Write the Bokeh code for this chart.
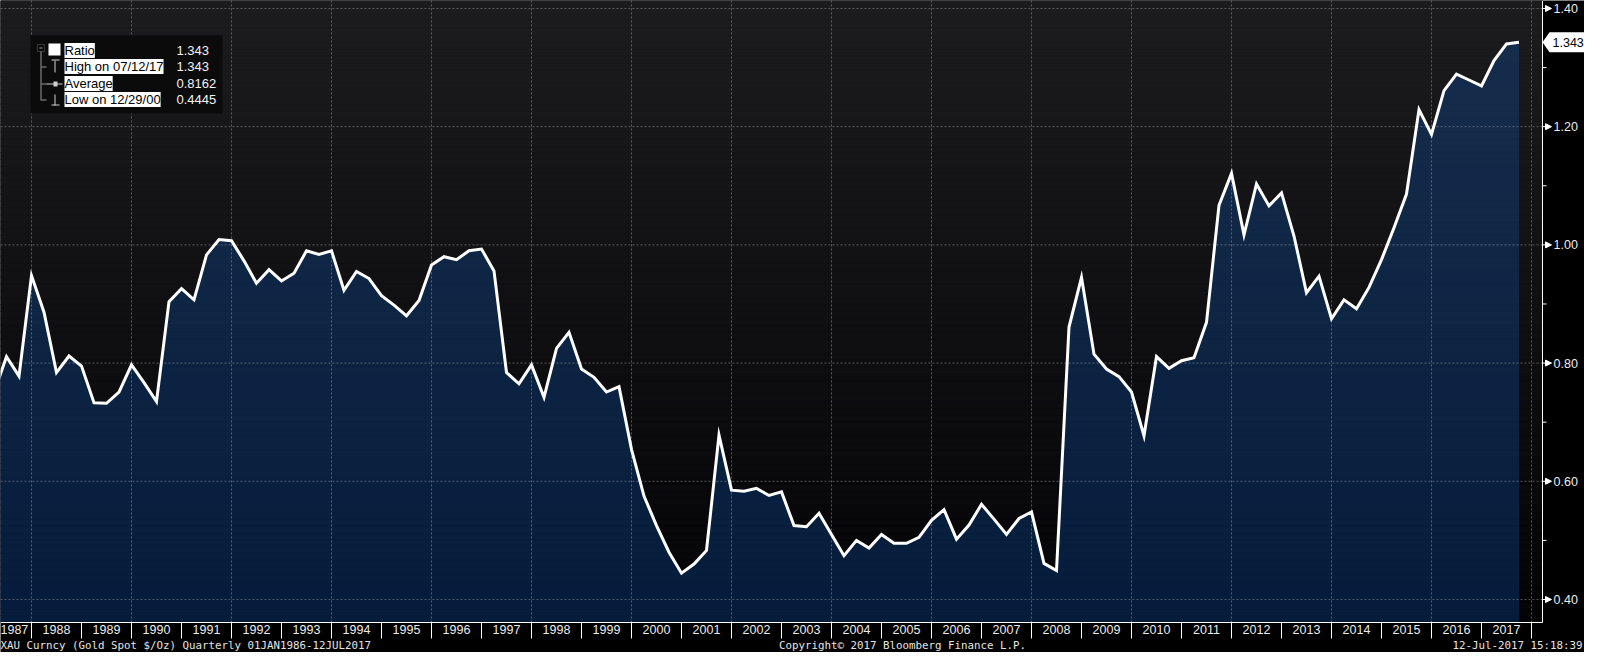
import numpy as np
from bokeh.plotting import figure
from bokeh.models import (ColumnDataSource, FixedTicker, CustomJSTickFormatter, Label, LinearAxis,
                          BoxAnnotation, PolyAnnotation, Arrow, NormalHead, Range1d)
from bokeh.embed import file_html
from bokeh.resources import INLINE

# ---------------- data ----------------
years = list(range(1987, 2018))          # year labels on the time axis
first_year = 1987                        # first quarter shown is Q1 1987
ratio = [
    0.750, 0.811, 0.778, 0.948,   # 1987
    0.886, 0.784, 0.812, 0.795,   # 1988
    0.733, 0.732, 0.751, 0.797,   # 1989
    0.767, 0.735, 0.904, 0.926,   # 1990
    0.907, 0.983, 1.009, 1.007,   # 1991
    0.973, 0.935, 0.958, 0.939,   # 1992
    0.952, 0.990, 0.984, 0.990,   # 1993
    0.923, 0.955, 0.943, 0.914,   # 1994
    0.898, 0.880, 0.906, 0.966,   # 1995
    0.980, 0.975, 0.990, 0.993,   # 1996
    0.956, 0.784, 0.765, 0.797,   # 1997
    0.742, 0.825, 0.852, 0.790,   # 1998
    0.776, 0.751, 0.760, 0.654,   # 1999
    0.575, 0.525, 0.480, 0.4445,  # 2000
    0.460, 0.483, 0.678, 0.585,   # 2001
    0.583, 0.588, 0.576, 0.582,   # 2002
    0.525, 0.523, 0.546, 0.510,   # 2003
    0.474, 0.500, 0.487, 0.510,   # 2004
    0.495, 0.495, 0.505, 0.534,   # 2005
    0.552, 0.502, 0.526, 0.561,   # 2006
    0.536, 0.510, 0.537, 0.548,   # 2007
    0.461, 0.449, 0.861, 0.945,   # 2008
    0.815, 0.790, 0.777, 0.751,   # 2009
    0.677, 0.811, 0.791, 0.804,   # 2010
    0.809, 0.869, 1.067, 1.121,   # 2011
    1.017, 1.103, 1.066, 1.088,   # 2012
    1.015, 0.919, 0.947, 0.875,   # 2013
    0.907, 0.892, 0.928, 0.975,   # 2014
    1.029, 1.086, 1.229, 1.187,   # 2015
    1.261, 1.289, 1.279, 1.269,   # 2016
    1.312, 1.340, 1.343,          # 2017
]
# quarter-end positions in decimal years
quarter_x = [first_year + (i + 1) / 4.0 for i in range(len(ratio))]

y_ticks = [0.40, 0.60, 0.80, 1.00, 1.20, 1.40]
y_minor = [0.50, 0.70, 0.90, 1.10, 1.30]
year_bounds = list(range(1988, 2019))
grid_years = list(range(1988, 2019, 2))
last_value = 1.343
last_text = "1.343"
legend_names = ["Ratio", "High on 07/12/17", "Average", "Low on 12/29/00"]
legend_values = ["1.343", "1.343", "0.8162", "0.4445"]
footer_left = "XAU Curncy (Gold Spot  $/Oz)  Quarterly 01JAN1986-12JUL2017"
footer_mid = "Copyright\u00a9 2017 Bloomberg Finance L.P."
footer_right = "12-Jul-2017 15:18:39"

# ---------------- layout ----------------
W, H = 1584, 652            # whole canvas is the frame
PXW = 50.0                  # pixels per year
PYW = 591.0                 # pixels per ratio unit
X0 = 1987.38                # left edge of canvas
XA = 2018.22                # right edge of the plot area (value axis)
Y1 = 1.4135                 # top edge of canvas
YA = 0.3611                 # bottom edge of the plot area (time axis)
XR = X0 + W / PXW
Y0 = Y1 - H / PYW
PX = 1.0 / PXW
PY = 1.0 / PYW


def cx(px):
    return X0 + px * PX


def cy(py):
    return Y1 - py * PY


SANS = "Liberation Sans"
MONO = "DejaVu Sans Mono"

p = figure(width=W, height=H, x_range=Range1d(X0, XR), y_range=Range1d(Y0, Y1),
           output_backend="svg", toolbar_location=None,
           x_axis_location=None, y_axis_location=None,
           min_border=0, min_border_left=0, min_border_right=0, min_border_top=0, min_border_bottom=0,
           background_fill_color="black", border_fill_color="black", outline_line_color=None)
p.grid.visible = False

# plot-area background gradient (decorative)
nb = 90
edges = np.linspace(YA, Y1, nb + 1)
top_c = np.array([28.0, 28.0, 31.0])
bot_c = np.array([4.0, 4.0, 7.0])
mid = (edges[:-1] + edges[1:]) / 2
frac = (mid - YA) / (Y1 - YA)
band_colors = ["#%02x%02x%02x" % tuple(int(round(v)) for v in (bot_c + f * (top_c - bot_c))) for f in frac]
p.quad(left=X0, right=XA, bottom=edges[:-1], top=edges[1:], fill_color=band_colors,
       line_color=band_colors, line_width=1)

# area under the ratio line
p.varea(x=quarter_x, y1=YA, y2=ratio, fill_color=(9, 101, 216), fill_alpha=0.25)

# dotted grid lines
p.segment(x0=X0, x1=XA, y0=y_ticks, y1=y_ticks, line_color="#b4b4b4", line_alpha=0.45,
          line_dash="2 2", line_width=1)
p.segment(x0=grid_years, x1=grid_years, y0=YA, y1=Y1, line_color="#b4b4b4", line_alpha=0.45,
          line_dash="2 2", line_width=1)

# ratio line
p.line(quarter_x, ratio, line_color="white", line_width=3, line_join="miter")

# year separators in the time strip
p.segment(x0=year_bounds, x1=year_bounds, y0=YA, y1=YA - 16 * PY, line_color="white", line_width=1)

# time axis (drawn at the bottom of the plot area)
xa = LinearAxis(fixed_location=YA, bounds=(X0, XA))
xa.ticker = FixedTicker(ticks=[y + 0.5 for y in years])
xa.formatter = CustomJSTickFormatter(code="return Math.floor(tick).toString()")
xa.major_tick_line_color = None
xa.major_tick_out = 0
xa.major_tick_in = 0
xa.minor_tick_line_color = None
xa.minor_tick_out = 0
xa.minor_tick_in = 0
xa.axis_line_color = "white"
xa.major_label_text_color = "#ececec"
xa.major_label_text_font = SANS
xa.major_label_text_font_size = "12.5px"
xa.major_label_standoff = 3
p.add_layout(xa, "below")

# value axis (drawn at the right edge of the plot area)
ya = LinearAxis(fixed_location=XA, bounds=(YA, Y1))
ya.ticker = FixedTicker(ticks=y_ticks, minor_ticks=y_minor)
ya.formatter = CustomJSTickFormatter(code="return tick.toFixed(2)")
ya.major_tick_line_color = None
ya.major_tick_out = 0
ya.major_tick_in = 0
ya.minor_tick_line_color = None
ya.minor_tick_out = 0
ya.minor_tick_in = 0
ya.axis_line_color = "white"
ya.major_label_standoff = 11
ya.major_label_text_color = "#ececec"
ya.major_label_text_font = SANS
ya.major_label_text_font_size = "12.5px"
p.add_layout(ya, "right")

# minor ticks on the value axis
p.segment(x0=XA, x1=XA + 4 * PX, y0=y_minor, y1=y_minor, line_color="white", line_width=1)

# tick pointers on the value axis
arrow_src = ColumnDataSource(dict(xs=[XA] * len(y_ticks), xe=[XA + 9 * PX] * len(y_ticks), y=y_ticks))
p.add_layout(Arrow(end=NormalHead(size=6, fill_color="white", line_color="white", line_width=1),
                   x_start="xs", y_start="y", x_end="xe", y_end="y", source=arrow_src,
                   line_color="white", line_width=1))

# last value callout
p.add_layout(PolyAnnotation(xs=[XA, XA + 7 * PX, XA + 60 * PX, XA + 60 * PX, XA + 7 * PX],
                            ys=[last_value, last_value + 10 * PY, last_value + 10 * PY,
                                last_value - 10 * PY, last_value - 10 * PY],
                            fill_color="white", fill_alpha=1.0, line_color=None))
p.add_layout(Label(x=XA, y=last_value, x_offset=10, text=last_text, text_baseline="middle",
                   text_align="left", text_color="black", text_font=SANS, text_font_size="12.5px"))

# legend panel
p.add_layout(BoxAnnotation(left=cx(30), right=cx(222), top=cy(35), bottom=cy(113),
                           fill_color="#0b0b0c", fill_alpha=1.0, line_color=None))


def deco(l, t, r, b, color="#9a9a9a", outline=False):
    if outline:
        p.add_layout(BoxAnnotation(left=cx(l), right=cx(r), top=cy(t), bottom=cy(b),
                                   fill_alpha=0.0, line_color=color, line_width=1))
    else:
        p.add_layout(BoxAnnotation(left=cx(l), right=cx(r), top=cy(t), bottom=cy(b),
                                   fill_color=color, fill_alpha=1.0, line_color=None))


deco(37, 44, 44, 51, outline=True)          # tree toggle box
deco(39, 47, 42, 48)                        # minus in the toggle
deco(40, 51, 41, 100)                       # tree stem
for ry in (66, 83, 99):
    deco(41, ry, 46, ry + 1)                # branches
deco(48, 43, 60, 55, color="white")         # series colour square
deco(51, 59, 59, 60, color="#d0d0d0")       # high marker bar
deco(54, 60, 55, 72, color="#d0d0d0")       # high marker stem
deco(46, 83, 62, 84, color="#d0d0d0")       # average marker line
deco(53, 81, 57, 86, color="#d0d0d0")       # average marker dot
deco(54, 94, 55, 105, color="#d0d0d0")      # low marker stem
deco(51, 104, 59, 105, color="#d0d0d0")     # low marker bar

row_y = [50, 66, 83, 99]
for name, val, ry in zip(legend_names, legend_values, row_y):
    p.add_layout(Label(x=cx(64), y=cy(ry), text=name, text_baseline="middle", text_align="left",
                       text_color="black", background_fill_color="white", background_fill_alpha=1.0,
                       text_font=SANS, text_font_size="13px"))
    p.add_layout(Label(x=cx(176), y=cy(ry), text=val, text_baseline="middle", text_align="left",
                       text_color="#f2f2f2", text_font=SANS, text_font_size="13px"))

# footer
for txt, xo, al in ((footer_left, 0, "left"), (footer_mid, 902, "center"), (footer_right, 1582, "right")):
    p.add_layout(Label(x=cx(xo), y=cy(645), text=txt, text_baseline="middle",
                       text_align=al, text_color="#e4e4e4", text_font=MONO, text_font_size="10.8px"))

open("out.html", "w").write(file_html(p, INLINE, title="XAU ratio"))
